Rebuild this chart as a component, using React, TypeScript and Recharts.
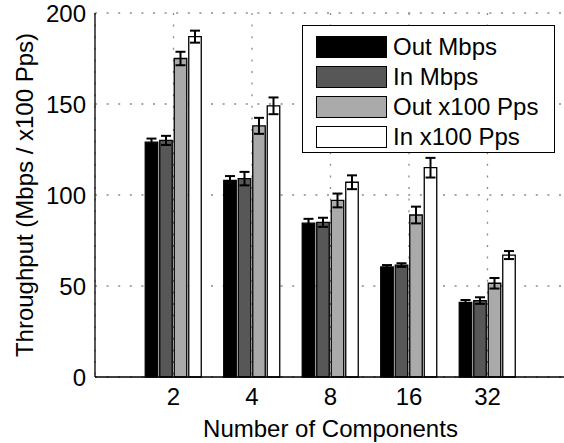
import { Bar, BarChart, CartesianGrid, ErrorBar, XAxis, YAxis } from "recharts";

const components = ["2", "4", "8", "16", "32"];
const outMbps = [129, 108, 84.5, 60.5, 41];
const inMbps = [130, 109, 85, 61.5, 42];
const outPps = [175, 138, 97, 89, 51.5];
const inPps = [187, 149, 107, 115, 67];
const outMbpsErr = [2, 2.4, 2.4, 1, 1.3];
const inMbpsErr = [2.5, 3.7, 2.5, 1, 1.8];
const outPpsErr = [3.7, 4.4, 3.8, 4.6, 2.9];
const inPpsErr = [3.3, 4.6, 3.8, 5.4, 2.2];
const yTicks = [0, 50, 100, 150, 200];

const series = [
  { key: "outMbps", name: "Out Mbps", fill: "#000000" },
  { key: "inMbps", name: "In Mbps", fill: "#575757" },
  { key: "outPps", name: "Out x100 Pps", fill: "#aaaaaa" },
  { key: "inPps", name: "In x100 Pps", fill: "#ffffff" },
];

const data = components.map((name, i) => ({
  name,
  outMbps: outMbps[i],
  outMbpsErr: outMbpsErr[i],
  inMbps: inMbps[i],
  inMbpsErr: inMbpsErr[i],
  outPps: outPps[i],
  outPpsErr: outPpsErr[i],
  inPps: inPps[i],
  inPpsErr: inPpsErr[i],
}));

const font = '"Liberation Sans", Arial, sans-serif';

export default function App() {
  return (
    <div
      style={{
        position: "fixed",
        left: 0,
        top: 0,
        width: 564,
        height: 443,
        overflow: "hidden",
        background: "#fff",
        fontFamily: font,
      }}
    >
      <BarChart
        width={580}
        height={443}
        data={data}
        margin={{ top: 13, right: 14, bottom: 0, left: 0 }}
        barSize={12.5}
        barGap={2}
      >
        <CartesianGrid stroke="#8a8a8a" strokeWidth={1.3} strokeDasharray="2 9.6" />
        <XAxis
          dataKey="name"
          height={66}
          padding={{ left: 39.25, right: 39.25 }}
          axisLine={{ stroke: "#000", strokeWidth: 1.3 }}
          tickLine={false}
          tickSize={0}
          tickMargin={11}
          tick={{ fill: "#000", fontSize: 24, fontFamily: font }}
          label={{
            value: "Number of Components",
            position: "insideBottom",
            offset: 6,
            style: { fill: "#000", fontSize: 24, fontFamily: font },
          }}
        />
        <YAxis
          width={95}
          domain={[0, 200]}
          ticks={yTicks}
          axisLine={{ stroke: "#000", strokeWidth: 1.3 }}
          tickLine={false}
          tickSize={0}
          tickMargin={9}
          tick={{ fill: "#000", fontSize: 24, fontFamily: font }}
          label={{
            value: "Throughput (Mbps / x100 Pps)",
            angle: -90,
            position: "insideLeft",
            offset: 24,
            style: { fill: "#000", fontSize: 24, fontFamily: font, textAnchor: "middle" },
          }}
        />
        {series.map((s) => (
          <Bar
            key={s.key}
            dataKey={s.key}
            name={s.name}
            fill={s.fill}
            stroke="#000"
            strokeWidth={1.3}
            isAnimationActive={false}
          >
            <ErrorBar
              dataKey={`${s.key}Err`}
              width={5}
              stroke="#000"
              strokeWidth={2}
              isAnimationActive={false}
            />
          </Bar>
        ))}
      </BarChart>
      <div
        style={{
          position: "absolute",
          left: 302,
          top: 25,
          width: 253,
          height: 128,
          boxSizing: "border-box",
          border: "1.5px solid #000",
          background: "#fff",
          paddingTop: 6,
        }}
      >
        {series.map((s) => (
          <div
            key={s.key}
            style={{ display: "flex", alignItems: "center", height: 30, marginLeft: 13 }}
          >
            <div
              style={{
                width: 71,
                height: 22,
                boxSizing: "border-box",
                border: "1.3px solid #000",
                background: s.fill,
              }}
            />
            <span style={{ marginLeft: 6, fontSize: 24, color: "#000", lineHeight: "24px" }}>
              {s.name}
            </span>
          </div>
        ))}
      </div>
    </div>
  );
}
